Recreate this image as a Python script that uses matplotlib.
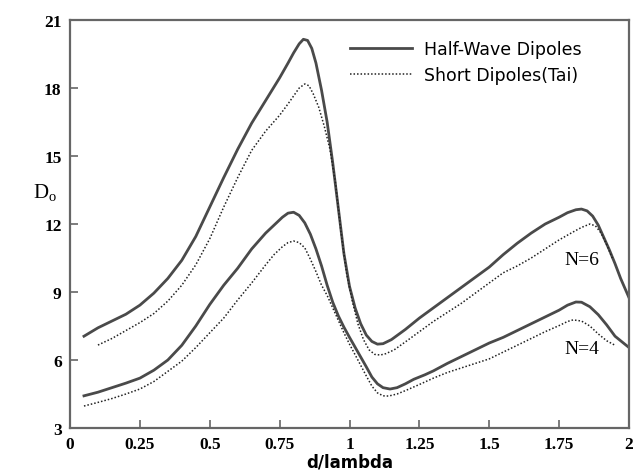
import matplotlib
matplotlib.use('Agg')
import matplotlib.pyplot as plt

# d/lambda values and directivity D_o
x_hw6 = [0.05, 0.10, 0.15, 0.20, 0.25, 0.30, 0.35, 0.40, 0.45, 0.50, 0.55, 0.60, 0.65, 0.70,
         0.75, 0.78, 0.80, 0.82, 0.835, 0.85, 0.865, 0.88, 0.90, 0.92, 0.94, 0.96, 0.98,
         1.00, 1.02, 1.04, 1.06, 1.08, 1.10, 1.12, 1.15, 1.20, 1.25, 1.30, 1.35, 1.40,
         1.45, 1.50, 1.55, 1.60, 1.65, 1.70, 1.75, 1.78, 1.81, 1.83, 1.85, 1.87, 1.89,
         1.91, 1.93, 1.95, 1.97, 2.00]
y_hw6 = [7.05, 7.42, 7.72, 8.02, 8.42, 8.95, 9.6, 10.4, 11.45, 12.75, 14.05, 15.3, 16.45, 17.45,
         18.45, 19.1, 19.55, 19.95, 20.15, 20.1, 19.75, 19.1, 17.9, 16.5, 14.7, 12.7, 10.7,
         9.25, 8.3, 7.6, 7.1, 6.82, 6.7, 6.72, 6.9, 7.35, 7.85, 8.3, 8.75, 9.2,
         9.65, 10.1, 10.65, 11.15, 11.6, 12.0, 12.3, 12.5, 12.63, 12.66, 12.58, 12.35, 11.95,
         11.4, 10.85, 10.25, 9.6, 8.75]

x_sd6 = [0.10, 0.15, 0.20, 0.25, 0.30, 0.35, 0.40, 0.45, 0.50, 0.55, 0.60, 0.65, 0.70, 0.75,
         0.78, 0.80, 0.82, 0.84, 0.855, 0.87, 0.89, 0.91, 0.93, 0.95, 0.97, 0.99, 1.01,
         1.03, 1.05, 1.07, 1.09, 1.11, 1.13, 1.16, 1.20, 1.25, 1.30, 1.35, 1.40, 1.45,
         1.50, 1.55, 1.60, 1.65, 1.70, 1.75, 1.80, 1.83, 1.86, 1.88, 1.90, 1.92, 1.94]
y_sd6 = [6.66, 6.95, 7.3, 7.65, 8.05, 8.6, 9.3, 10.2, 11.35, 12.75, 14.05, 15.25, 16.1, 16.8,
         17.3, 17.65, 18.0, 18.18, 18.1, 17.75, 17.15, 16.3, 15.3, 13.8, 11.6, 9.8, 8.6,
         7.6, 6.9, 6.45, 6.25, 6.22, 6.28, 6.45, 6.8, 7.25, 7.7, 8.1, 8.5, 8.95,
         9.4, 9.85, 10.15, 10.5, 10.9, 11.3, 11.65, 11.85, 12.0, 11.92, 11.6, 11.1, 10.5]

x_hw4 = [0.05, 0.10, 0.15, 0.20, 0.25, 0.30, 0.35, 0.40, 0.45, 0.50, 0.55, 0.60, 0.65, 0.70,
         0.73, 0.76, 0.78, 0.80, 0.82, 0.84, 0.86, 0.88, 0.90, 0.92, 0.94, 0.96, 0.98,
         1.00, 1.03, 1.06, 1.08, 1.10, 1.12, 1.145, 1.17, 1.20, 1.23, 1.27, 1.30, 1.35,
         1.40, 1.45, 1.50, 1.55, 1.60, 1.65, 1.70, 1.75, 1.78, 1.81, 1.83, 1.86, 1.89,
         1.92, 1.95, 1.975, 2.00]
y_hw4 = [4.42, 4.58, 4.78, 4.98, 5.2, 5.55, 6.0, 6.65, 7.5, 8.45, 9.3, 10.05, 10.9, 11.6,
         11.95, 12.3, 12.48, 12.52, 12.38, 12.05, 11.55, 10.9, 10.15, 9.3, 8.55, 7.95, 7.45,
         7.0, 6.35, 5.7, 5.25, 4.95, 4.78, 4.72, 4.78, 4.95, 5.15, 5.35, 5.52, 5.85,
         6.15, 6.45, 6.75, 7.0, 7.3, 7.6, 7.9, 8.2, 8.42, 8.56, 8.55, 8.35, 8.0,
         7.55, 7.05, 6.8, 6.55]

x_sd4 = [0.05, 0.10, 0.15, 0.20, 0.25, 0.30, 0.35, 0.40, 0.45, 0.50, 0.55, 0.60, 0.65, 0.70,
         0.73, 0.76, 0.78, 0.80, 0.82, 0.84, 0.86, 0.88, 0.90, 0.92, 0.94, 0.96, 0.98,
         1.00, 1.03, 1.06, 1.08, 1.10, 1.12, 1.14, 1.17, 1.20, 1.25, 1.30, 1.35, 1.40,
         1.45, 1.50, 1.55, 1.60, 1.65, 1.70, 1.75, 1.78, 1.80, 1.83, 1.86, 1.89, 1.92, 1.95]
y_sd4 = [3.97, 4.13, 4.3, 4.5, 4.72, 5.05, 5.5, 5.95, 6.55, 7.2, 7.85, 8.65, 9.4, 10.2,
         10.65, 11.0, 11.18, 11.25, 11.18, 10.95, 10.45, 9.9, 9.3, 8.85, 8.3, 7.75, 7.2,
         6.7, 6.0, 5.3, 4.85, 4.55, 4.42, 4.41, 4.5, 4.65, 4.92, 5.2, 5.45, 5.65,
         5.85, 6.05, 6.35, 6.65, 6.95, 7.25, 7.52, 7.7, 7.77, 7.72, 7.5, 7.15, 6.85, 6.65]

x_ticks = [0, 0.25, 0.5, 0.75, 1, 1.25, 1.5, 1.75, 2]
x_ticklabels = ['0', '0.25', '0.5', '0.75', '1', '1.25', '1.5', '1.75', '2']
y_ticks = [3, 6, 9, 12, 15, 18, 21]

solid_color = '#4a4a4a'
dot_style = (0, (1, 1.3))

fig = plt.figure(figsize=(6.41, 4.77), dpi=100)
ax = fig.add_axes([0.1092, 0.1006, 0.8721, 0.8553])

ax.plot(x_hw6, y_hw6, color=solid_color, lw=2.0, label='Half-Wave Dipoles')
ax.plot(x_sd6, y_sd6, color='#222222', lw=1.1, linestyle=dot_style, label='Short Dipoles(Tai)')
ax.plot(x_hw4, y_hw4, color=solid_color, lw=2.0)
ax.plot(x_sd4, y_sd4, color='#222222', lw=1.1, linestyle=dot_style)

ax.set_xlim(0, 2)
ax.set_ylim(3, 21)
ax.set_xticks(x_ticks)
ax.set_xticklabels(x_ticklabels)
ax.set_yticks(y_ticks)
ax.tick_params(direction='in', length=6, width=1.2, color='#666666',
               top=False, right=False, pad=6)
for lab in ax.get_xticklabels() + ax.get_yticklabels():
    lab.set_fontfamily('Liberation Serif')
    lab.set_fontweight('bold')
    lab.set_fontsize(12.5)
for sp in ax.spines.values():
    sp.set_color('#666666')
    sp.set_linewidth(1.6)

ax.set_xlabel('d/lambda', fontsize=12, fontweight='bold', labelpad=0)
ax.text(-0.09, 13.4, r'D$_\mathregular{o}$', fontsize=15, family='Liberation Serif',
        ha='center', va='center')

ax.text(1.83, 10.45, 'N=6', fontsize=14, family='Liberation Serif', ha='center', va='center')
ax.text(1.83, 6.5, 'N=4', fontsize=14, family='Liberation Serif', ha='center', va='center')

ax.legend(loc='upper left', bbox_to_anchor=(0.5, 0.952), frameon=False, fontsize=12.5,
          handlelength=3.6, handletextpad=0.7, labelspacing=0.5,
          borderpad=0, borderaxespad=0)

fig.savefig('out.png', dpi=100)
